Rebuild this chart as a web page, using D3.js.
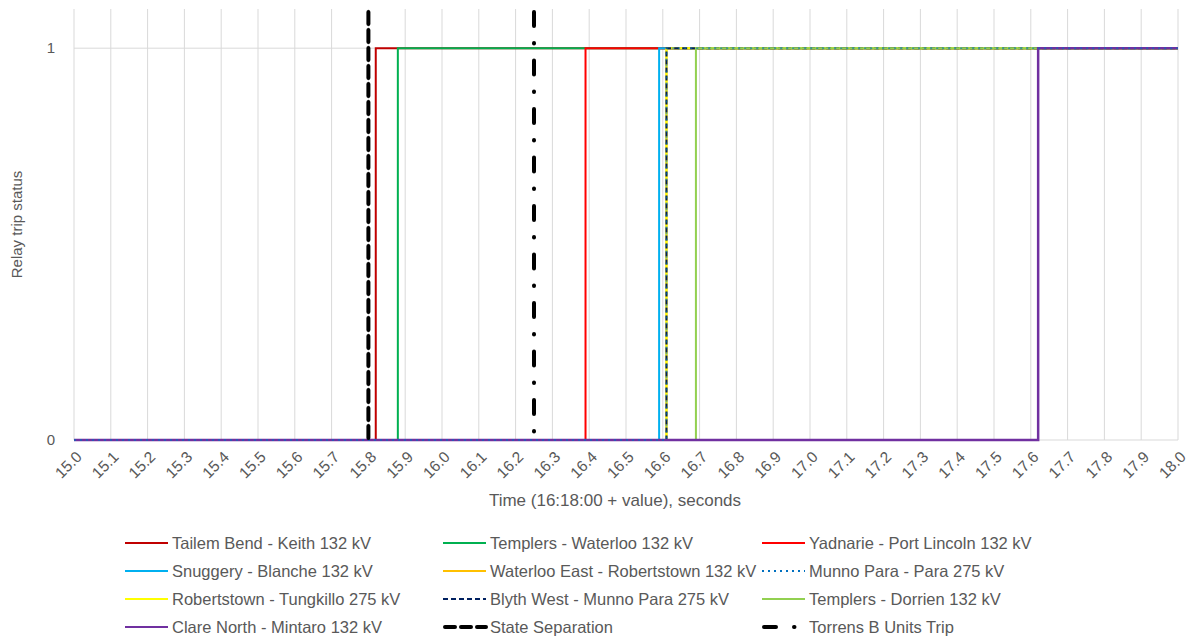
<!DOCTYPE html>
<html><head><meta charset="utf-8">
<script src="https://cdn.jsdelivr.net/npm/d3@7"></script>
<style>body{margin:0;background:#fff;} text{font-family:"Liberation Sans",Arial,sans-serif;fill:#595959;}</style>
</head><body><svg id="c" width="1189" height="639"></svg>
<script>
const seriesNames = ["Tailem Bend - Keith 132 kV","Templers - Waterloo 132 kV","Yadnarie - Port Lincoln 132 kV",
 "Snuggery - Blanche 132 kV","Waterloo East - Robertstown 132 kV","Munno Para - Para 275 kV",
 "Robertstown - Tungkillo 275 kV","Blyth West - Munno Para 275 kV","Templers - Dorrien 132 kV",
 "Clare North - Mintaro 132 kV"];
const seriesColors = ["#C00000","#00B050","#FF0000","#00B0F0","#FFC000","#0070C0","#FFFF00","#002060","#92D050","#7030A0"];
const seriesDash = [null,null,null,null,null,"2,4",null,"5,3",null,null];
// step series: time points and relay status (step-after)
const tailemT = [15.0, 15.82, 18.0], tailemV = [0, 1, 1];
const templersWT = [15.0, 15.88, 18.0], templersWV = [0, 1, 1];
const yadnarieT = [15.0, 16.39, 18.0], yadnarieV = [0, 1, 1];
const snuggeryT = [15.0, 16.59, 18.0], snuggeryV = [0, 1, 1];
const waterlooET = [15.0, 16.61, 18.0], waterlooEV = [0, 1, 1];
const munnoT = [15.0, 16.61, 18.0], munnoV = [0, 1, 1];
const robertstownT = [15.0, 16.61, 18.0], robertstownV = [0, 1, 1];
const blythT = [15.0, 16.61, 18.0], blythV = [0, 1, 1];
const templersDT = [15.0, 16.69, 18.0], templersDV = [0, 1, 1];
const clareT = [15.0, 17.62, 18.0], clareV = [0, 1, 1];
const seriesT = [tailemT,templersWT,yadnarieT,snuggeryT,waterlooET,munnoT,robertstownT,blythT,templersDT,clareT];
const seriesV = [tailemV,templersWV,yadnarieV,snuggeryV,waterlooEV,munnoV,robertstownV,blythV,templersDV,clareV];
// event markers
const eventNames = ["State Separation","Torrens B Units Trip"];
const eventTimes = [15.80, 16.25];
const xTicks = d3.range(0,31).map(i => +(15 + i*0.1).toFixed(1));
const yTicks = [0, 1];

const svg = d3.select("#c");
const L = 74, R = 1178, T = 9, B = 440;
const x = d3.scaleLinear().domain([15, 18]).range([L, R]);
const y = d3.scaleLinear().domain([0, 1.1]).range([B, T]);

// gridlines
svg.append("g").selectAll("line").data(xTicks).join("line")
  .attr("x1", d => x(d)).attr("x2", d => x(d)).attr("y1", T).attr("y2", B)
  .attr("stroke", "#D9D9D9").attr("stroke-width", 1);
svg.append("g").selectAll("line").data(yTicks).join("line")
  .attr("x1", L).attr("x2", R).attr("y1", d => y(d)).attr("y2", d => y(d))
  .attr("stroke", "#D9D9D9").attr("stroke-width", 1);

// axes labels
svg.append("g").selectAll("text").data(yTicks).join("text")
  .attr("x", 55).attr("y", d => y(d)).attr("dy", "0.35em").attr("text-anchor", "end")
  .attr("font-size", 15).text(d => d);
svg.append("g").selectAll("text").data(xTicks).join("text")
  .attr("transform", d => `translate(${x(d)+5},${B+14}) rotate(-45)`)
  .attr("dy", "0.35em").attr("text-anchor", "end").attr("font-size", 15.5)
  .text(d => d3.format(".1f")(d));
svg.append("text").attr("x", 615).attr("y", 506).attr("text-anchor", "middle")
  .attr("font-size", 17).text("Time (16:18:00 + value), seconds");
svg.append("text").attr("transform", `translate(22,${(T+B)/2}) rotate(-90)`)
  .attr("text-anchor", "middle").attr("font-size", 15).text("Relay trip status");

// series
const line = d3.line().x(d => x(d[0])).y(d => y(d[1])).curve(d3.curveStepAfter);
const order = [0,1,2,3,4,6,7,8,9,5];
order.forEach(i => {
  const pts = seriesT[i].map((t, k) => [t, seriesV[i][k]]);
  svg.append("path").attr("d", line(pts)).attr("fill", "none")
    .attr("stroke", seriesColors[i]).attr("stroke-width", i === 9 ? 2.5 : 2)
    .attr("stroke-dasharray", seriesDash[i]).attr("opacity", i === 5 ? 0.6 : 1);
});
// event lines
const evDash = ["12,6", "14,17,0.5,17"];
eventTimes.forEach((t, i) => {
  svg.append("line").attr("x1", x(t)).attr("x2", x(t)).attr("y1", y(1.1)+3).attr("y2", y(0))
    .attr("stroke", "#000").attr("stroke-width", 4).attr("stroke-linecap", "round")
    .attr("stroke-dasharray", evDash[i]);
});

// legend
const legNames = seriesNames.concat(eventNames);
const legColors = seriesColors.concat(["#000", "#000"]);
const legDash = seriesDash.concat(["10,6", "12,18,0.5,20"]);
const colX = [125, 443, 762], rowY = [543, 571, 599, 627];
legNames.forEach((n, i) => {
  const cx = colX[i % 3], cy = rowY[Math.floor(i / 3)];
  const ev = i >= 10;
  svg.append("line").attr("x1", cx + (ev ? 2 : 0)).attr("x2", cx + 43).attr("y1", cy).attr("y2", cy)
    .attr("stroke", legColors[i]).attr("stroke-width", ev ? 4 : 2)
    .attr("stroke-linecap", ev ? "round" : "butt").attr("stroke-dasharray", legDash[i]);
  svg.append("text").attr("x", cx + 47).attr("y", cy).attr("dy", "0.35em")
    .attr("font-size", 16.5).text(n);
});
</script></body></html>
